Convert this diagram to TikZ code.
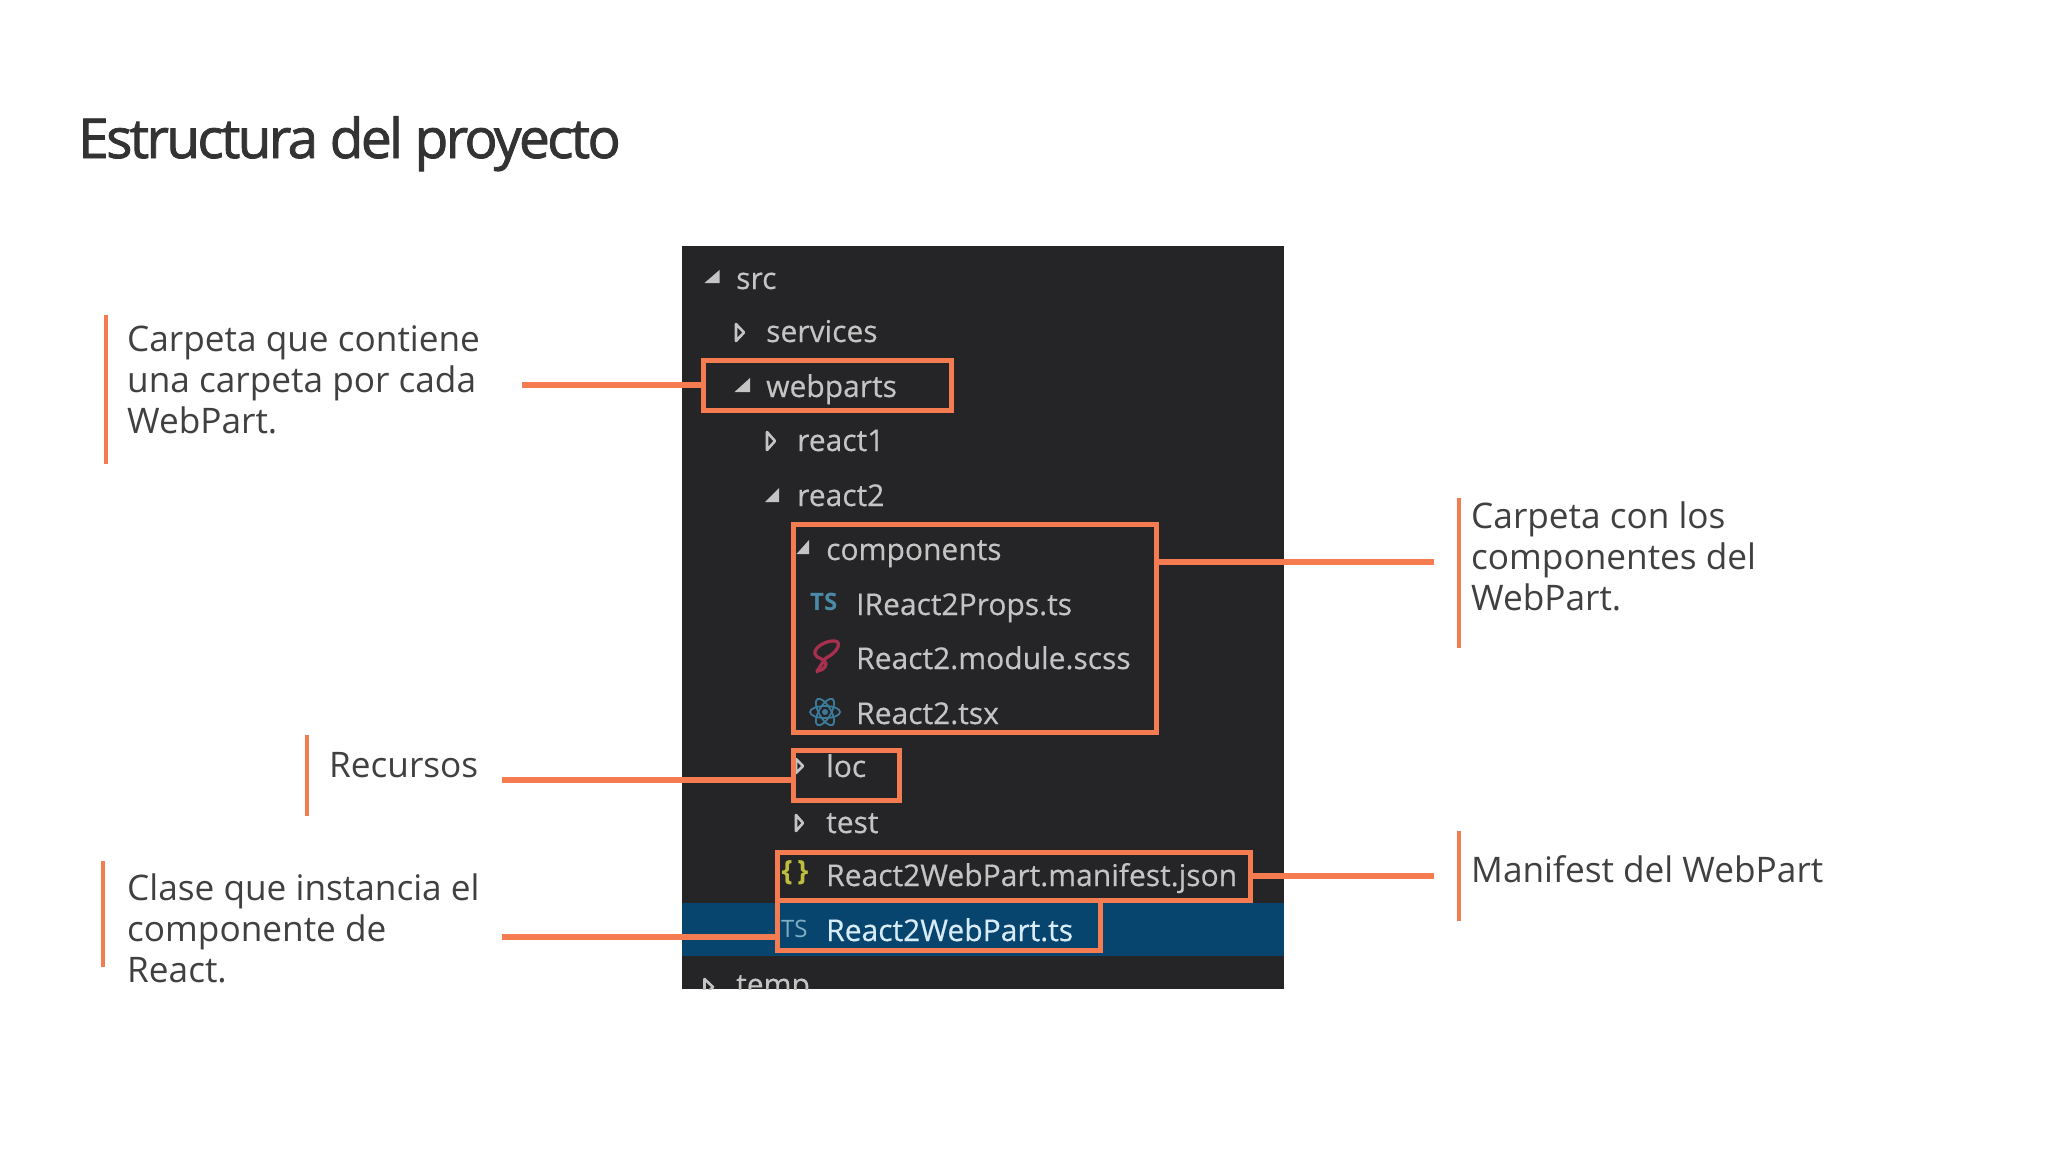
\documentclass[tikz,border=0pt]{standalone}
\usepackage{fontspec}
\setmainfont{Open Sans}
\newfontfamily\titlefont[LetterSpace=-4.8,FakeBold=1.5]{Open Sans}
\newfontfamily\treefont[FakeBold=0.4]{Open Sans}
\definecolor{acc}{HTML}{F47C50}
\definecolor{panel}{HTML}{252527}
\definecolor{band}{HTML}{07456F}
\definecolor{treetxt}{HTML}{C4C4C4}
\definecolor{seltxt}{HTML}{D8ECF8}
\definecolor{bodytxt}{HTML}{404040}
\definecolor{tsblue}{HTML}{4A8BA8}
\definecolor{reactblue}{HTML}{3C7A9A}
\definecolor{scssred}{HTML}{A8304E}
\definecolor{jsonyel}{HTML}{BDBD3E}
\tikzset{
 x=1pt,y=-1pt,
 hl/.style={draw=acc,line width=5pt,rectangle,inner sep=0pt,outer sep=0pt,fill=none},
 conn/.style={draw=acc,line width=5.5pt},
 bar/.style={draw=acc,line width=4pt},
 note/.style={anchor=base west,inner sep=0pt,align=left,text=bodytxt,font=\fontsize{35.2}{41}\selectfont},
 tree/.style={anchor=base west,inner sep=0pt,text=treetxt,font=\treefont\fontsize{30}{36}\selectfont},
}
\newcommand{\trexp}[4]{\fill[treetxt] (#3,#2) -- (#3,#4) -- (#1,#4) -- cycle;}
\newcommand{\trcol}[4]{\draw[treetxt,line width=2.6pt,line join=round] (#1,#2) -- (#3,{(#2+#4)/2}) -- (#1,#4) -- cycle;}
\begin{document}
\begin{tikzpicture}
\useasboundingbox (0,0) rectangle (2048,1152);
\fill[white] (0,0) rectangle (2048,1152);
\node[anchor=base west,inner sep=0pt,text=black!80,font=\titlefont\fontsize{55}{60}\selectfont] (title) at (78,158) {Estructura del proyecto};
% panel
\fill[panel] (682,246) rectangle (1284,989);
\fill[band] (682,903) rectangle (1284,956);
\begin{scope}
\clip (682,246) rectangle (1284,989);
\node[tree] (tsrc) at (736,289) {src};
\node[tree] (tservices) at (766,342) {services};
\node[tree] (twebparts) at (766,397) {webparts};
\node[tree] (treact1) at (797,451) {react1};
\node[tree] (treact2) at (797,506) {react2};
\node[tree] (tcomp) at (826,560) {components};
\node[tree] (tprops) at (856,615) {IReact2Props.ts};
\node[tree] (tscss) at (856,669) {React2.module.scss};
\node[tree] (ttsx) at (856,724) {React2.tsx};
\node[tree] (tloc) at (826,777) {loc};
\node[tree] (ttest) at (826,833) {test};
\node[tree] (tman) at (826,886) {React2WebPart.manifest.json};
\node[tree,text=seltxt] (tts) at (826,941) {React2WebPart.ts};
\node[tree] (ttemp) at (736,995) {temp};
\trcol{704.5}{979}{713}{995}
\end{scope}
\trexp{704.5}{270}{719.5}{283}
\trcol{736}{324}{744}{341}
\trexp{734.5}{378}{750}{392}
\trcol{767}{432}{775}{450}
\trexp{765}{488}{779}{502}
\trexp{796.5}{540}{809}{554}
\trcol{796}{759}{803}{773}
\trcol{796}{815}{803}{831}
% icons
\node[anchor=base west,inner sep=0pt,text=tsblue,font=\bfseries\fontsize{24}{24}\selectfont] (icts1) at (810,610) {TS};
\node[anchor=base west,inner sep=0pt,text=tsblue!70!white,font=\fontsize{24}{24}\selectfont] (icts2) at (781,937) {TS};
\node[anchor=center,inner sep=0pt,text=jsonyel,font=\bfseries\fontsize{28}{28}\selectfont] (icjson) at (795,873) {\{\,\}};
\draw[scssred,line width=3.2pt,line cap=round] (817,672) .. controls (820,666) and (823,662) .. (826,658) .. controls (838,652) and (842,642) .. (835,641) .. controls (826,640) and (813,648) .. (815,654) .. controls (816,659) and (826,658) .. (826,664) .. controls (826,668) and (820,672) .. (817,670);
\foreach \r in {0,60,120}{\draw[reactblue,line width=1.8pt,rotate around={\r:(825,712)}] (825,712) ellipse (15pt and 6pt);}
\fill[reactblue] (825,712) circle (3pt);
% highlight boxes
\node[hl,minimum width=248pt,minimum height=50pt] (bweb) at (827.5,385) {};
\node[hl,minimum width=363pt,minimum height=208pt] (bcomp) at (975,628.5) {};
\node[hl,minimum width=106pt,minimum height=50pt] (bloc) at (846.5,775.5) {};
\node[hl,minimum width=473pt,minimum height=48pt] (bman) at (1014,876.5) {};
\node[hl,minimum width=323pt,minimum height=50pt] (bts) at (939,925.5) {};
% notes
\coordinate (cweb) at (522,385);
\coordinate (ccomp) at (1434,562);
\coordinate (cloc) at (502,780);
\coordinate (cman) at (1434,876);
\coordinate (cts) at (502,937);
\draw[conn] (cweb) -- (cweb -| bweb.west);
\draw[conn] (bcomp.east |- ccomp) -- (ccomp);
\draw[conn] (cloc) -- (cloc -| bloc.west);
\draw[conn] (bman.east |- cman) -- (cman);
\draw[conn] (cts) -- (cts -| bts.west);
\node[note,anchor=north west] (n1) at (127,325) {Carpeta que contiene\\una carpeta por cada\\WebPart.};
\node[note,anchor=north west] (n2) at (329,752) {Recursos};
\node[note,anchor=north west] (n3) at (127,874) {Clase que instancia el\\componente de\\React.};
\node[note,anchor=north west] (n4) at (1471,502) {Carpeta con los\\componentes del\\WebPart.};
\node[note,anchor=north west] (n5) at (1471,855) {Manifest del WebPart};
\coordinate (b1a) at (106,315); \coordinate (b1b) at (106,464);
\coordinate (b2a) at (307,735); \coordinate (b2b) at (307,816);
\coordinate (b3a) at (103,861); \coordinate (b3b) at (103,967);
\coordinate (b4a) at (1459,498); \coordinate (b4b) at (1459,648);
\coordinate (b5a) at (1459,831); \coordinate (b5b) at (1459,921);
\draw[bar] (b1a) -- (b1b);
\draw[bar] (b2a) -- (b2b);
\draw[bar] (b3a) -- (b3b);
\draw[bar] (b4a) -- (b4b);
\draw[bar] (b5a) -- (b5b);
\end{tikzpicture}
\end{document}
